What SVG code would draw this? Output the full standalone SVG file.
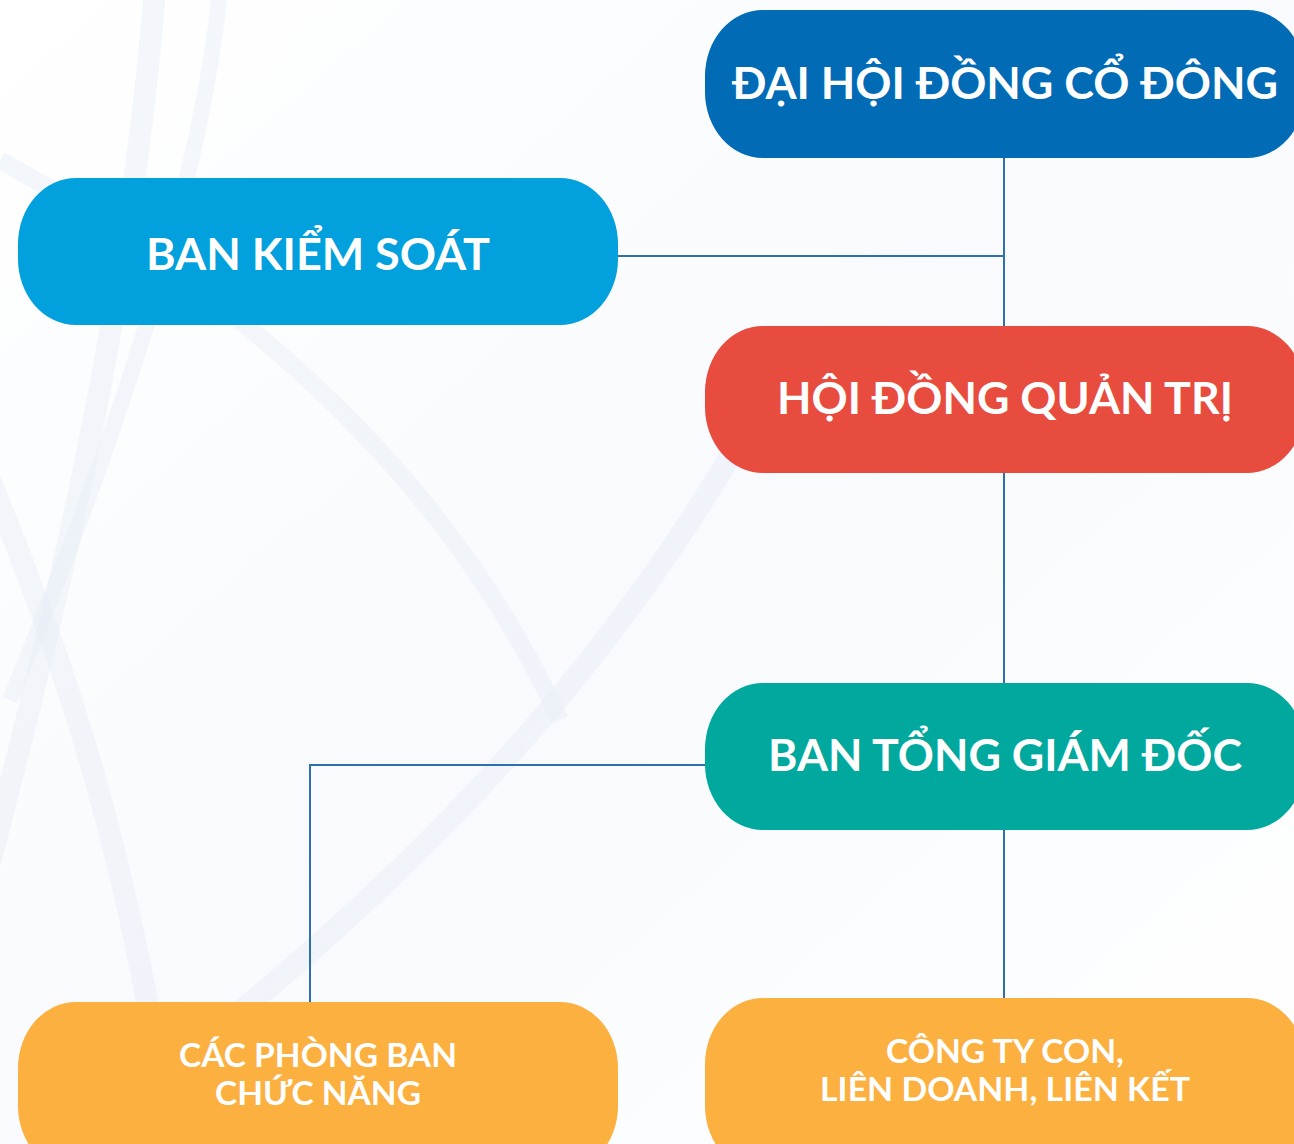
<svg xmlns="http://www.w3.org/2000/svg" width="1294" height="1144" viewBox="0 0 1294 1144">
<defs>
<linearGradient id="bg" x1="0" y1="0" x2="1" y2="1">
<stop offset="0" stop-color="#ffffff"/>
<stop offset="0.5" stop-color="#f8fafd"/>
<stop offset="1" stop-color="#ffffff"/>
</linearGradient>
<style>
.node{rx:58px;ry:66px}
.t{font-family:Lato,"Open Sans","Liberation Sans",sans-serif;font-weight:bold;fill:#ffffff;text-anchor:middle}
.big{font-size:44px}
.small{font-size:32px}
.conn{fill:none;stroke:#2f6fae;stroke-width:2}
.curve{fill:none;stroke:#e6eef7;stroke-opacity:0.45}
</style>
</defs>
<rect width="1294" height="1144" fill="url(#bg)"/>
<g id="background">
<path class="curve" stroke-width="22" d="M155 -10 C130 300 60 600 -20 900"/>
<path class="curve" stroke-width="22" d="M-10 480 C60 650 130 850 170 1144"/>
<path class="curve" stroke-width="18" d="M0 160 C250 300 450 480 560 720"/>
<path class="curve" stroke-width="22" d="M740 440 C600 680 400 900 100 1120"/>
<path class="curve" stroke-width="16" d="M220 -10 C200 200 100 480 10 700"/>
</g>
<g id="connectors">
<path class="conn" d="M1004 158 V326"/>
<path class="conn" d="M618 256 H1004"/>
<path class="conn" d="M1004 473 V683"/>
<path class="conn" d="M705 765 H310 V1002"/>
<path class="conn" d="M1004 830 V998"/>
</g>
<g id="dai-hoi-dong-co-dong">
<rect class="node" x="705" y="10" width="600" height="148" fill="#016bb6"/>
<text class="t big" x="1005" y="99" textLength="546" lengthAdjust="spacingAndGlyphs">ĐẠI HỘI ĐỒNG CỔ ĐÔNG</text>
</g>
<g id="ban-kiem-soat">
<rect class="node" x="18" y="178" width="600" height="147" fill="#02a0dc"/>
<text class="t big" x="318" y="270" textLength="344" lengthAdjust="spacingAndGlyphs">BAN KIỂM SOÁT</text>
</g>
<g id="hoi-dong-quan-tri">
<rect class="node" x="705" y="326" width="600" height="147" fill="#e74c3e"/>
<text class="t big" x="1005" y="414" textLength="456" lengthAdjust="spacingAndGlyphs">HỘI ĐỒNG QUẢN TRỊ</text>
</g>
<g id="ban-tong-giam-doc">
<rect class="node" x="705" y="683" width="600" height="147" fill="#01a89e"/>
<text class="t big" x="1005" y="771" textLength="474" lengthAdjust="spacingAndGlyphs">BAN TỔNG GIÁM ĐỐC</text>
</g>
<g id="cac-phong-ban">
<rect class="node" x="18" y="1002" width="600" height="170" fill="#fbb040"/>
<text class="t small" x="318" y="1067" textLength="278" lengthAdjust="spacingAndGlyphs">CÁC PHÒNG BAN</text>
<text class="t small" x="318" y="1105" textLength="206" lengthAdjust="spacingAndGlyphs">CHỨC NĂNG</text>
</g>
<g id="cong-ty-con">
<rect class="node" x="705" y="998" width="600" height="174" fill="#fbb040"/>
<text class="t small" x="1005" y="1063" textLength="238" lengthAdjust="spacingAndGlyphs">CÔNG TY CON,</text>
<text class="t small" x="1005" y="1101" textLength="370" lengthAdjust="spacingAndGlyphs">LIÊN DOANH, LIÊN KẾT</text>
</g>
</svg>
